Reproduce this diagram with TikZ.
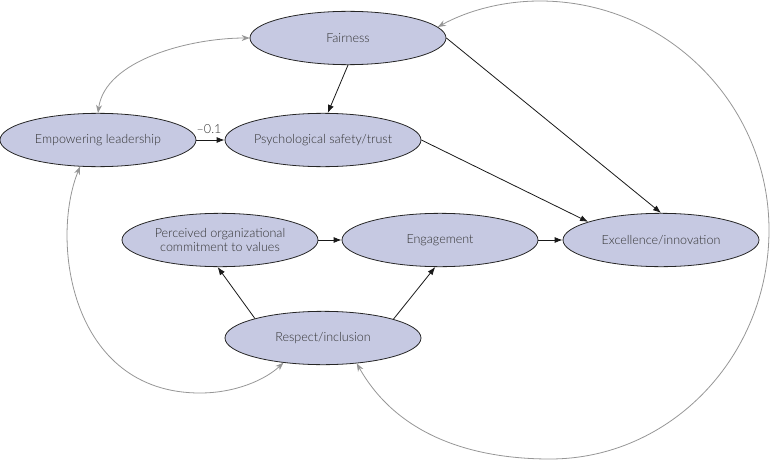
\documentclass[tikz,border=0pt]{standalone}
\usepackage{fontspec}
\setmainfont{Lato}[UprightFont=* Light]
\usetikzlibrary{shapes.geometric,arrows.meta}
\definecolor{nodefill}{RGB}{198,201,226}
\definecolor{txt}{RGB}{50,50,50}
\definecolor{linkgray}{RGB}{150,150,150}
\begin{document}
\begin{tikzpicture}[x=0.75pt,y=-0.75pt,
  factor/.style={ellipse,draw=black!85,line width=0.6pt,fill=nodefill,
    minimum width=147pt,minimum height=40pt,inner sep=0pt,
    font=\fontsize{9.4}{11}\selectfont,text=txt,align=center},
  path/.style={draw=black!90,line width=0.6pt,-{Latex[length=6pt,width=4.5pt]}},
  corr/.style={draw=linkgray,line width=0.6pt,
    {Stealth[length=6pt,width=4.5pt]}-{Stealth[length=6pt,width=4.5pt]}}]
\useasboundingbox (0,0) rectangle (770,460);
\node[factor] (fair) at (348,38) {Fairness};
\node[factor] (emp) at (98,140) {Empowering leadership};
\node[factor] (psy) at (323,140) {Psychological safety/trust};
\node[factor] (perc) at (220,240) {Perceived organizational\\commitment to values};
\node[factor] (eng) at (440,240) {Engagement};
\node[factor] (exc) at (661,240) {Excellence/innovation};
\node[factor] (resp) at (323,338) {Respect/inclusion};
% causal paths
\draw[path] (fair.south) -- (psy.80);
\draw[path] (emp.east) -- node[above=1pt,pos=0.45,font=\fontsize{9.4}{11}\selectfont,text=txt] (lab) {–0.1} (psy.west);
\draw[path] (fair.east) -- (exc.north);
\draw[path] (psy.east) -- (exc.166);
\draw[path] (perc.east) -- (eng.west);
\draw[path] (eng.east) -- (exc.west);
\draw[path] (resp.164) -- (perc.265);
\draw[path] (resp.15) -- (eng.260);
% correlations
\draw[corr] (emp.north) .. controls (105,60) and (190,38) .. (fair.west);
\draw[corr] (emp.236) .. controls (50,240) and (70,393) .. (200,393)
  .. controls (235,393) and (265,380) .. (resp.212);
\draw[corr] (resp.-37) .. controls (400,440) and (480,459) .. (550,459)
  .. controls (671,459) and (769,356) .. (769,230)
  .. controls (769,104) and (666,1) .. (540,1)
  .. controls (500,1) and (465,12) .. (fair.7);
\end{tikzpicture}
\end{document}
